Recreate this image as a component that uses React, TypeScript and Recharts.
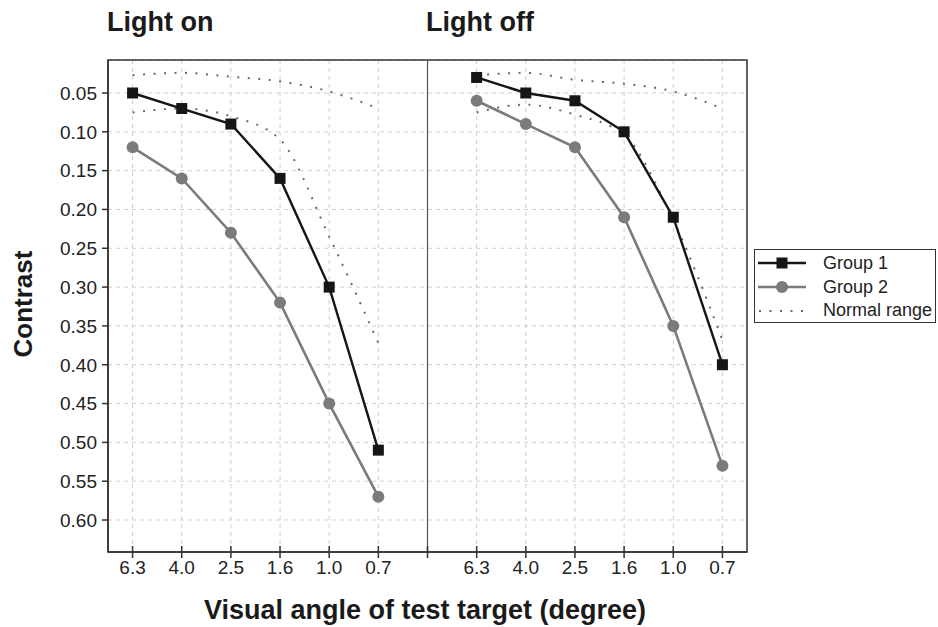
import React from 'react'
import {
  LineChart,
  Line,
  XAxis,
  YAxis,
  CartesianGrid,
  ReferenceLine,
  ReferenceArea,
} from 'recharts'

// visual angle categories (degree), same for both panels
const angles = ['6.3', '4.0', '2.5', '1.6', '1.0', '0.7']

// Light on panel
const group1On = [0.05, 0.07, 0.09, 0.16, 0.3, 0.51]
const group2On = [0.12, 0.16, 0.23, 0.32, 0.45, 0.57]
const normalUpperOn = [0.027, 0.024, 0.029, 0.035, 0.048, 0.07]
const normalLowerOn = [0.075, 0.07, 0.08, 0.11, 0.235, 0.372]

// Light off panel
const group1Off = [0.03, 0.05, 0.06, 0.1, 0.21, 0.4]
const group2Off = [0.06, 0.09, 0.12, 0.21, 0.35, 0.53]
const normalUpperOff = [0.027, 0.024, 0.033, 0.038, 0.048, 0.07]
const normalLowerOff = [0.075, 0.065, 0.078, 0.104, 0.214, 0.368]

const yTicks = [0.05, 0.1, 0.15, 0.2, 0.25, 0.3, 0.35, 0.4, 0.45, 0.5, 0.55, 0.6]
const seriesNames = ['Group 1', 'Group 2', 'Normal range']
const panelTitles = ['Light on', 'Light off']

// x positions: 0..5 left panel, 6 = divider, 7..12 right panel
const xTicks = Array.from({ length: 13 }, (_, i) => i)
const xLabel = (v: number) => {
  if (v < 6) return angles[v] ?? ''
  if (v > 6) return angles[v - 7] ?? ''
  return ''
}

const data = [
  ...angles.map((_, i) => ({
    x: i,
    g1On: group1On[i],
    g2On: group2On[i],
    upOn: normalUpperOn[i],
    loOn: normalLowerOn[i],
  })),
  { x: 6 },
  ...angles.map((_, i) => ({
    x: 7 + i,
    g1Off: group1Off[i],
    g2Off: group2Off[i],
    upOff: normalUpperOff[i],
    loOff: normalLowerOff[i],
  })),
]

const FONT = '"Liberation Sans", Arial, Helvetica, sans-serif'
const Y_MIN = 0.0075
const Y_MAX = 0.6412

const black = '#161616'
const gray = '#7b7b7b'
const dotted = '#6a6a6a'
const axisColor = '#333'

const SquareDot = (props: any) => {
  const { cx, cy, index } = props
  if (cx == null || cy == null) return <g key={`sq-${index}`} />
  return <rect key={`sq-${index}`} x={cx - 5.5} y={cy - 5.5} width={11} height={11} fill={black} />
}

const circleDot = { r: 6, fill: gray, stroke: gray, strokeWidth: 0 }

// x tick: line crosses the axis, label below
const XTick = (props: any) => {
  const { x, y, payload } = props
  const axisY = y - 8
  return (
    <g>
      <line x1={x} x2={x} y1={axisY - 6} y2={axisY + 6} stroke={axisColor} strokeWidth={1.5} />
      <text x={x} y={y + 1} dy="0.71em" textAnchor="middle" fontSize={19} fill="#222" fontFamily={FONT}>
        {xLabel(payload.value)}
      </text>
    </g>
  )
}

const YTick = (props: any) => {
  const { x, y, payload } = props
  return (
    <text x={x} y={y} dy="0.36em" textAnchor="end" fontSize={19} fill="#222" fontFamily={FONT}>
      {Number(payload.value).toFixed(2)}
    </text>
  )
}

export default function App() {
  return (
    <div
      style={{
        position: 'absolute',
        left: 0,
        top: 0,
        width: 938,
        height: 627,
        background: '#fff',
        fontFamily: FONT,
        color: '#1a1a1a',
      }}
    >
      <div style={{ position: 'absolute', left: 107, top: 7, fontSize: 27, fontWeight: 700 }}>
        {panelTitles[0]}
      </div>
      <div style={{ position: 'absolute', left: 426, top: 7, fontSize: 27, fontWeight: 700 }}>
        {panelTitles[1]}
      </div>

      <LineChart
        width={938}
        height={627}
        data={data}
        margin={{ top: 60, right: 191, bottom: 0, left: 0 }}
      >
        <CartesianGrid stroke="#cfcfcf" strokeDasharray="4 4" />
        <XAxis
          dataKey="x"
          type="number"
          domain={[-0.5, 12.5]}
          ticks={xTicks}
          interval={0}
          height={75}
          tick={<XTick />}
          tickSize={6}
          tickMargin={2}
          tickLine={false}
          axisLine={{ stroke: axisColor, strokeWidth: 1.5 }}
        />
        <YAxis
          type="number"
          reversed
          domain={[Y_MIN, Y_MAX]}
          ticks={yTicks}
          interval={0}
          width={108}
          tick={<YTick />}
          tickSize={6}
          tickMargin={5}
          axisLine={{ stroke: axisColor, strokeWidth: 1.5 }}
          tickLine={{ stroke: axisColor, strokeWidth: 1.5 }}
        />
        <ReferenceArea
          x1={-0.5}
          x2={12.5}
          y1={Y_MIN}
          y2={Y_MAX}
          fill="none"
          fillOpacity={0}
          stroke={axisColor}
          strokeWidth={1.5}
        />
        <ReferenceLine x={6} stroke="#555" strokeWidth={1.2} />

        <Line dataKey="upOn" type="monotone" stroke={dotted} strokeWidth={2} strokeDasharray="2 8.5" dot={false} isAnimationActive={false} />
        <Line dataKey="loOn" type="monotone" stroke={dotted} strokeWidth={2} strokeDasharray="2 8.5" dot={false} isAnimationActive={false} />
        <Line dataKey="upOff" type="monotone" stroke={dotted} strokeWidth={2} strokeDasharray="2 8.5" dot={false} isAnimationActive={false} />
        <Line dataKey="loOff" type="monotone" stroke={dotted} strokeWidth={2} strokeDasharray="2 8.5" dot={false} isAnimationActive={false} />

        <Line dataKey="g2On" type="linear" stroke={gray} strokeWidth={2.6} dot={circleDot} activeDot={false} isAnimationActive={false} />
        <Line dataKey="g2Off" type="linear" stroke={gray} strokeWidth={2.6} dot={circleDot} activeDot={false} isAnimationActive={false} />
        <Line dataKey="g1On" type="linear" stroke={black} strokeWidth={2.4} dot={SquareDot} activeDot={false} isAnimationActive={false} />
        <Line dataKey="g1Off" type="linear" stroke={black} strokeWidth={2.4} dot={SquareDot} activeDot={false} isAnimationActive={false} />
      </LineChart>

      <div
        style={{
          position: 'absolute',
          left: 23,
          top: 304,
          fontSize: 26,
          fontWeight: 700,
          transform: 'translate(-50%, -50%) rotate(-90deg)',
          whiteSpace: 'nowrap',
          lineHeight: 1,
        }}
      >
        Contrast
      </div>
      <div
        style={{
          position: 'absolute',
          left: 0,
          width: 850,
          top: 595,
          textAlign: 'center',
          fontSize: 27,
          fontWeight: 700,
        }}
      >
        Visual angle of test target (degree)
      </div>

      <div
        style={{
          position: 'absolute',
          left: 754,
          top: 249,
          width: 182,
          height: 74,
          border: '1px solid #333',
          boxSizing: 'border-box',
          background: '#fff',
          fontSize: 18,
          color: '#222',
        }}
      >
        {seriesNames.map((name, i) => (
          <div
            key={name}
            style={{ position: 'absolute', left: 0, top: 2 + i * 23.5, height: 22, display: 'flex', alignItems: 'center' }}
          >
            <svg width={66} height={22} style={{ display: 'block' }}>
              {i === 0 && (
                <g>
                  <line x1={3} y1={11} x2={51} y2={11} stroke={black} strokeWidth={2.4} />
                  <rect x={21.5} y={5.5} width={11} height={11} fill={black} />
                </g>
              )}
              {i === 1 && (
                <g>
                  <line x1={3} y1={11} x2={51} y2={11} stroke={gray} strokeWidth={2.6} />
                  <circle cx={27} cy={11} r={6} fill={gray} />
                </g>
              )}
              {i === 2 && (
                <line x1={4} y1={12} x2={51} y2={12} stroke={dotted} strokeWidth={2} strokeDasharray="2 8.5" />
              )}
            </svg>
            <span style={{ marginLeft: 2, lineHeight: '22px' }}>{name}</span>
          </div>
        ))}
      </div>
    </div>
  )
}
